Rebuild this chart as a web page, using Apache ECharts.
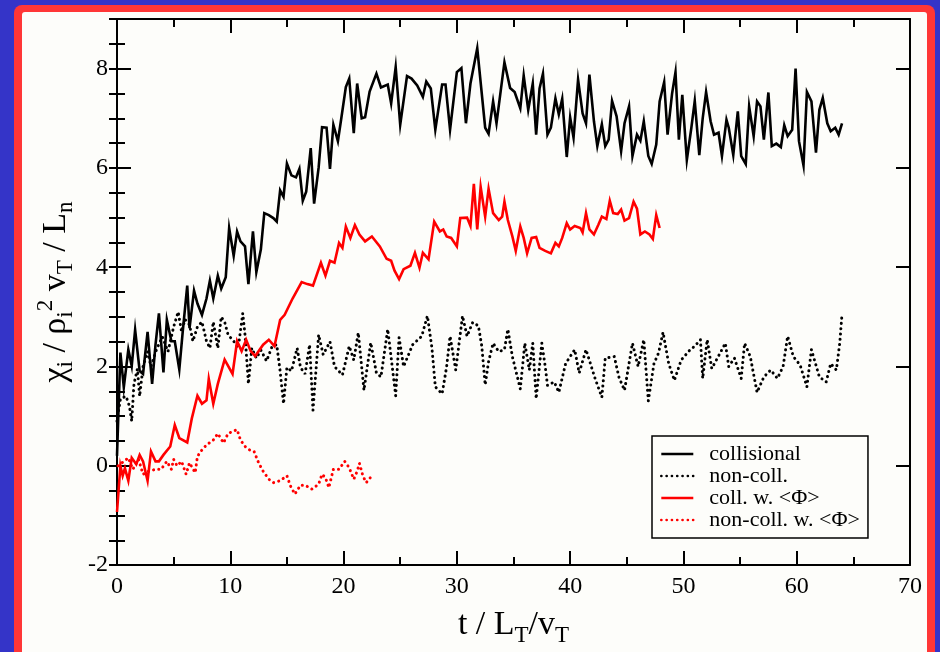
<!DOCTYPE html>
<html>
<head>
<meta charset="utf-8">
<title>Ion heat diffusivity vs time</title>
<script src="https://cdn.jsdelivr.net/npm/echarts@6/dist/echarts.min.js"></script>
<style>
  html, body { margin: 0; padding: 0; overflow: hidden; background: #3434c8; }
  #frame { position: absolute; left: 14px; top: 5px; width: 921px; height: 700px; background: #ff3636; border-radius: 8px; }
  #panel { position: absolute; left: 22px; top: 12px; width: 905px; height: 700px; background: #fdfdfa; border-radius: 3px; }
  #chart { position: absolute; left: 0; top: 0; width: 940px; height: 652px; }
</style>
</head>
<body>
<div id="frame"></div>
<div id="panel"></div>
<div id="chart"></div>
<script>
// chi_i in units of rho_i^2 v_T / L_n versus time t in units of L_T / v_T
// each series: [t, chi]
const collisional = [
  [0, 0.2], [0.3, 2.28], [0.6, 1.58], [1.0, 2.34], [1.3, 2.01], [1.6, 2.74], [2.0, 1.91], [2.3, 1.85],
  [2.7, 2.70], [3.1, 1.65], [3.4, 2.44], [3.7, 3.07], [4.1, 1.88], [4.4, 2.94], [4.8, 2.51], [5.1, 2.51],
  [5.5, 1.94], [5.8, 2.70], [6.2, 3.63], [6.4, 2.77], [6.8, 3.53], [7.1, 3.27], [7.5, 3.04], [7.9, 3.37],
  [8.2, 3.73], [8.5, 3.37], [8.9, 3.83], [9.2, 3.57], [9.6, 3.80], [9.9, 4.79], [10.3, 4.23], [10.6, 4.72],
  [10.9, 4.52], [11.3, 4.42], [11.6, 3.66], [12.0, 4.72], [12.3, 3.90], [12.7, 4.36], [13.0, 5.09], [13.4, 5.05],
  [13.8, 4.99], [14.1, 4.92], [14.4, 5.55], [14.7, 5.42], [15.0, 6.09], [15.4, 5.85], [15.8, 5.81], [16.1, 5.98],
  [16.4, 5.34], [16.7, 5.52], [17.1, 6.40], [17.4, 5.28], [17.8, 6.01], [18.1, 6.82], [18.5, 6.81], [18.8, 5.98],
  [19.1, 6.87], [19.5, 6.54], [19.8, 7.00], [20.2, 7.63], [20.5, 7.80], [20.9, 6.70], [21.2, 7.70], [21.6, 7.00],
  [21.9, 7.02], [22.3, 7.54], [22.9, 7.90], [23.3, 7.62], [23.9, 7.68], [24.2, 7.30], [24.6, 8.03], [25.0, 6.87],
  [25.6, 7.85], [26.0, 7.80], [26.5, 7.66], [27.0, 7.43], [27.3, 7.74], [27.7, 7.60], [28.1, 6.77], [28.7, 7.68],
  [29.0, 7.68], [29.4, 6.77], [30.0, 7.93], [30.4, 8.01], [30.8, 6.90], [31.2, 7.70], [31.8, 8.41], [32.5, 6.81],
  [32.8, 6.69], [33.2, 7.34], [33.5, 6.90], [34.2, 8.13], [34.7, 7.61], [35.1, 7.53], [35.6, 7.20], [35.9, 7.86],
  [36.3, 7.17], [36.7, 7.70], [37.0, 6.67], [37.3, 7.60], [37.6, 7.90], [38.0, 6.67], [38.3, 6.81], [38.7, 7.40],
  [39.0, 7.08], [39.3, 7.39], [39.7, 6.22], [40.0, 7.02], [40.3, 6.61], [40.7, 7.78], [41.1, 7.10], [41.4, 6.90],
  [41.7, 7.88], [42.1, 6.94], [42.4, 6.44], [42.8, 6.88], [43.1, 6.44], [43.4, 6.57], [43.7, 7.35], [44.1, 7.04],
  [44.5, 6.34], [44.8, 6.90], [45.2, 7.24], [45.5, 6.24], [45.9, 6.67], [46.2, 6.55], [46.5, 6.94], [46.9, 6.24],
  [47.2, 6.08], [47.6, 6.47], [47.9, 7.34], [48.3, 7.73], [48.6, 6.67], [49.0, 7.50], [49.3, 7.93], [49.6, 6.57],
  [49.9, 7.47], [50.3, 6.16], [50.7, 6.81], [51.0, 7.35], [51.4, 6.26], [51.7, 7.00], [52.0, 7.53], [52.4, 6.94],
  [52.7, 6.67], [53.1, 6.71], [53.4, 6.24], [53.8, 6.97], [54.0, 6.81], [54.4, 6.26], [54.8, 7.14], [55.1, 6.24],
  [55.5, 6.08], [55.8, 7.24], [56.2, 6.64], [56.5, 7.34], [56.8, 7.24], [57.1, 6.57], [57.5, 7.52], [57.8, 6.44],
  [58.2, 6.49], [58.6, 6.42], [58.9, 6.86], [59.2, 6.64], [59.6, 6.77], [59.9, 8.00], [60.2, 6.54], [60.6, 6.05],
  [60.9, 7.53], [61.3, 7.34], [61.7, 6.31], [62.0, 7.17], [62.3, 7.41], [62.7, 6.90], [63.0, 6.74], [63.4, 6.81],
  [63.7, 6.67], [64.0, 6.90]
];

const nonCollisional = [
  [0, 0.9], [0.3, 1.35], [0.8, 1.4], [1.1, 1.2], [1.3, 0.9], [1.5, 1.65], [1.8, 1.95], [2.0, 1.4],
  [2.3, 2.0], [2.7, 2.3], [3.0, 2.0], [3.5, 2.35], [4.0, 2.6], [4.5, 2.3], [5.0, 2.8], [5.4, 3.1],
  [5.7, 2.7], [6.0, 2.95], [6.4, 2.84], [6.7, 2.51], [7.1, 2.80], [7.5, 2.90], [7.9, 2.51], [8.2, 2.37],
  [8.5, 2.90], [8.9, 2.37], [9.2, 3.0], [9.5, 2.90], [9.8, 2.64], [10.3, 2.51], [10.7, 2.37], [11.1, 3.07],
  [11.3, 2.64], [11.6, 1.65], [11.9, 2.37], [12.3, 2.17], [12.7, 2.33], [13.2, 2.11], [13.7, 2.41], [14.1, 2.44],
  [14.4, 1.91], [14.7, 1.25], [15.0, 1.98], [15.4, 1.91], [15.9, 2.37], [16.2, 1.98], [16.6, 1.85], [17.0, 2.44],
  [17.3, 1.12], [17.8, 2.64], [18.2, 2.24], [18.8, 2.50], [19.2, 2.0], [19.9, 1.83], [20.5, 2.41], [20.9, 2.13],
  [21.3, 2.68], [21.8, 1.52], [22.4, 2.48], [22.9, 1.87], [23.3, 1.79], [23.9, 2.75], [24.6, 1.41], [24.9, 2.58],
  [25.3, 2.0], [26.1, 2.44], [26.9, 2.61], [27.4, 3.02], [27.8, 2.37], [28.1, 1.59], [28.7, 1.45], [29.1, 2.0],
  [29.4, 2.61], [29.9, 1.93], [30.5, 3.02], [30.9, 2.61], [31.4, 2.89], [31.9, 2.82], [32.2, 2.41], [32.5, 1.63],
  [32.8, 2.1], [33.2, 2.47], [33.7, 2.3], [34.2, 2.34], [34.5, 2.75], [34.9, 2.20], [35.6, 1.55], [36.0, 2.47],
  [36.4, 1.93], [36.7, 2.47], [37.0, 1.35], [37.5, 2.47], [37.8, 2.0], [38.0, 1.62], [38.6, 1.69], [39.0, 1.48],
  [39.6, 2.06], [40.4, 2.34], [40.8, 1.87], [41.4, 2.34], [42.2, 1.76], [42.8, 1.38], [43.1, 2.17], [43.9, 2.20],
  [44.3, 1.79], [44.8, 1.52], [45.5, 2.47], [46.0, 2.0], [46.5, 2.54], [46.9, 1.31], [47.4, 2.06], [47.8, 2.27],
  [48.2, 2.69], [48.7, 2.06], [49.2, 1.72], [49.8, 2.13], [50.6, 2.34], [51.0, 2.41], [51.5, 2.54], [51.7, 1.76],
  [52.1, 2.54], [52.5, 1.96], [53.0, 2.17], [53.7, 2.47], [54.0, 2.0], [54.5, 2.17], [55.1, 1.76], [55.4, 2.47],
  [55.9, 2.20], [56.5, 1.48], [57.1, 1.79], [57.7, 1.93], [58.3, 1.76], [58.8, 2.0], [59.2, 2.61], [59.7, 2.20],
  [60.3, 2.03], [60.9, 1.59], [61.3, 2.34], [62.0, 1.79], [62.6, 1.69], [63.0, 2.06], [63.5, 1.93], [63.8, 2.47],
  [64.0, 3.06]
];

const collisionalPhi = [
  [0, -0.93], [0.3, 0.0], [0.5, -0.2], [0.7, -0.05], [1.0, -0.3], [1.3, 0.16], [1.7, 0.03], [2.0, 0.22],
  [2.3, 0.09], [2.7, -0.3], [3.0, 0.29], [3.4, 0.09], [3.7, 0.09], [4.1, 0.22], [4.7, 0.39], [5.1, 0.82],
  [5.5, 0.56], [6.2, 0.47], [6.6, 0.95], [7.1, 1.41], [7.5, 1.25], [7.9, 1.32], [8.1, 1.75], [8.5, 1.25],
  [8.9, 1.65], [9.5, 2.14], [10.2, 1.85], [10.6, 2.51], [11.0, 2.31], [11.4, 2.54], [11.8, 2.31], [12.2, 2.21],
  [12.9, 2.44], [13.4, 2.54], [13.9, 2.41], [14.4, 2.94], [14.8, 3.04], [15.5, 3.37], [16.3, 3.70], [16.8, 3.66],
  [17.3, 3.63], [18.0, 4.09], [18.4, 3.83], [18.8, 4.13], [19.2, 4.09], [19.6, 4.49], [19.9, 4.39], [20.2, 4.82],
  [20.6, 4.59], [21.0, 4.85], [21.4, 4.66], [21.9, 4.52], [22.5, 4.62], [23.2, 4.42], [23.8, 4.17], [24.2, 4.13],
  [24.5, 3.93], [24.9, 3.76], [25.3, 3.96], [25.9, 4.03], [26.3, 4.29], [26.7, 3.99], [27.0, 4.29], [27.5, 4.16],
  [28.0, 4.92], [28.5, 4.72], [28.8, 4.76], [29.1, 4.62], [29.5, 4.59], [30.0, 4.42], [30.3, 4.99], [30.9, 5.00],
  [31.2, 4.83], [31.5, 5.68], [31.8, 4.76], [32.1, 5.62], [32.5, 5.02], [32.8, 5.58], [33.2, 5.09], [33.7, 4.95],
  [34.0, 5.02], [34.2, 5.32], [34.5, 4.95], [34.9, 4.62], [35.2, 4.33], [35.6, 4.82], [35.9, 4.59], [36.2, 4.28],
  [36.6, 4.59], [37.0, 4.61], [37.3, 4.39], [37.8, 4.33], [38.3, 4.28], [38.7, 4.49], [39.0, 4.42], [39.3, 4.59],
  [39.7, 4.89], [40.0, 4.76], [40.4, 4.83], [40.9, 4.79], [41.1, 4.70], [41.4, 5.09], [41.7, 4.76], [42.1, 4.66],
  [42.5, 4.86], [42.8, 5.02], [43.2, 4.97], [43.5, 5.34], [43.8, 5.09], [44.2, 5.07], [44.5, 5.16], [44.8, 4.94],
  [45.2, 4.99], [45.6, 5.32], [45.9, 5.18], [46.2, 4.66], [46.6, 4.72], [47.0, 4.66], [47.3, 4.57], [47.6, 5.05],
  [47.9, 4.79]
];

const nonCollisionalPhi = [
  [0.1, 0.0], [1.0, 0.16], [1.4, -0.07], [1.9, 0.13], [2.3, -0.17], [2.8, -0.11], [3.4, -0.07], [3.9, -0.07],
  [4.4, 0.09], [4.8, -0.07], [5.0, 0.13], [5.3, 0.0], [5.7, 0.09], [6.1, -0.17], [6.4, 0.06], [6.9, -0.14],
  [7.1, 0.19], [7.5, 0.32], [7.9, 0.42], [8.5, 0.52], [8.9, 0.65], [9.4, 0.46], [9.8, 0.65], [10.6, 0.73],
  [10.9, 0.52], [11.3, 0.39], [11.7, 0.32], [12.1, 0.29], [12.5, 0.06], [12.9, -0.11], [13.4, -0.27], [13.8, -0.34],
  [14.4, -0.30], [15.0, -0.20], [15.3, -0.40], [15.7, -0.57], [16.2, -0.39], [16.6, -0.39], [17.2, -0.47], [17.8, -0.37],
  [18.1, -0.17], [18.4, -0.24], [18.7, -0.44], [19.1, -0.07], [19.6, -0.07], [20.1, 0.09], [20.5, -0.04], [20.9, -0.27],
  [21.2, -0.11], [21.4, 0.05], [21.7, -0.20], [22.0, -0.34], [22.5, -0.20]
];

const seriesNames = ['collisional', 'non-coll.', 'coll. w. <Φ>', 'non-coll. w. <Φ>'];

const SERIF = 'Liberation Serif, Times New Roman, serif';
const INK = '#000';

const chart = echarts.init(document.getElementById('chart'), null, { renderer: 'canvas' });

function tickAxis(extra) {
  return Object.assign({
    type: 'value',
    axisLine: { show: true, onZero: false, lineStyle: { color: INK, width: 2 } },
    axisTick: { show: true, inside: true, length: 14, lineStyle: { color: INK, width: 2 } },
    axisLabel: { show: false },
    splitLine: { show: false }
  }, extra);
}

const solid = (color) => ({ color: color, width: 2.6, type: 'solid', join: 'miter' });
const dotted = (color) => ({ color: color, width: 3, type: [0.1, 5.2], cap: 'round' });

chart.setOption({
  animation: false,
  backgroundColor: 'transparent',
  grid: { left: 117, right: 30, top: 19, bottom: 79, containLabel: false },
  legend: {
    data: seriesNames,
    orient: 'vertical',
    left: 652,
    top: 436,
    itemWidth: 32,
    itemHeight: 14,
    itemGap: 0,
    padding: [7, 8, 7, 8],
    borderColor: INK,
    borderWidth: 1.5,
    backgroundColor: '#fdfdfa',
    selectedMode: false,
    itemStyle: { opacity: 0 },
    lineStyle: { width: 2.6 },
    textStyle: { fontFamily: SERIF, fontSize: 22, lineHeight: 20, color: INK, padding: [0, 0, 0, 11] }
  },
  xAxis: [
    tickAxis({
      min: 0, max: 70, interval: 10, position: 'bottom',
      minorTick: { show: true, splitNumber: 2, length: 8, lineStyle: { color: INK, width: 2 } },
      axisLabel: { show: true, color: INK, fontFamily: SERIF, fontSize: 24, margin: 10 },
      name: '{m|t / L}{s|T}{m|/v}{s|T}',
      nameLocation: 'middle',
      nameGap: 32,
      nameTextStyle: {
        rich: {
          m: { fontFamily: SERIF, fontSize: 34, lineHeight: 36, color: INK },
          s: { fontFamily: SERIF, fontSize: 23, lineHeight: 24, color: INK, padding: [20, 0, 0, 0] }
        }
      }
    }),
    tickAxis({
      min: 0, max: 70, interval: 10, position: 'top',
      minorTick: { show: true, splitNumber: 2, length: 8, lineStyle: { color: INK, width: 2 } }
    })
  ],
  yAxis: [
    tickAxis({
      min: -2, max: 9, interval: 2, position: 'left',
      axisLabel: { show: true, color: INK, fontFamily: SERIF, fontSize: 24, margin: 9, showMaxLabel: false },
      name: '{m|χ}{s|i}{m| / ρ}{s|i}{p|2}{m| v}{s|T}{m| / L}{s|n}',
      nameLocation: 'middle',
      nameGap: 32,
      nameTextStyle: {
        rich: {
          m: { fontFamily: SERIF, fontSize: 34, lineHeight: 36, color: INK },
          s: { fontFamily: SERIF, fontSize: 23, lineHeight: 24, color: INK, padding: [20, 0, 0, 0] },
          p: { fontFamily: SERIF, fontSize: 23, lineHeight: 24, color: INK, padding: [0, 0, 20, 0] }
        }
      }
    }),
    tickAxis({ min: -2, max: 9, interval: 0.5, position: 'left', axisLine: { show: false }, axisTick: { show: true, inside: true, length: 8, lineStyle: { color: INK, width: 2 } } }),
    tickAxis({ min: -2, max: 9, interval: 2, position: 'right' }),
    tickAxis({ min: -2, max: 9, interval: 0.5, position: 'right', axisLine: { show: false }, axisTick: { show: true, inside: true, length: 8, lineStyle: { color: INK, width: 2 } } })
  ],
  series: [
    { name: seriesNames[0], type: 'line', data: collisional, symbol: 'none', lineStyle: solid('#000'), itemStyle: { color: '#000' }, z: 4 },
    { name: seriesNames[1], type: 'line', data: nonCollisional, symbol: 'none', lineStyle: dotted('#000'), itemStyle: { color: '#000' }, z: 3 },
    { name: seriesNames[2], type: 'line', data: collisionalPhi, symbol: 'none', lineStyle: solid('#ff0000'), itemStyle: { color: '#ff0000' }, z: 3 },
    { name: seriesNames[3], type: 'line', data: nonCollisionalPhi, symbol: 'none', lineStyle: dotted('#ff0000'), itemStyle: { color: '#ff0000' }, z: 3 }
  ]
});
</script>
</body>
</html>
